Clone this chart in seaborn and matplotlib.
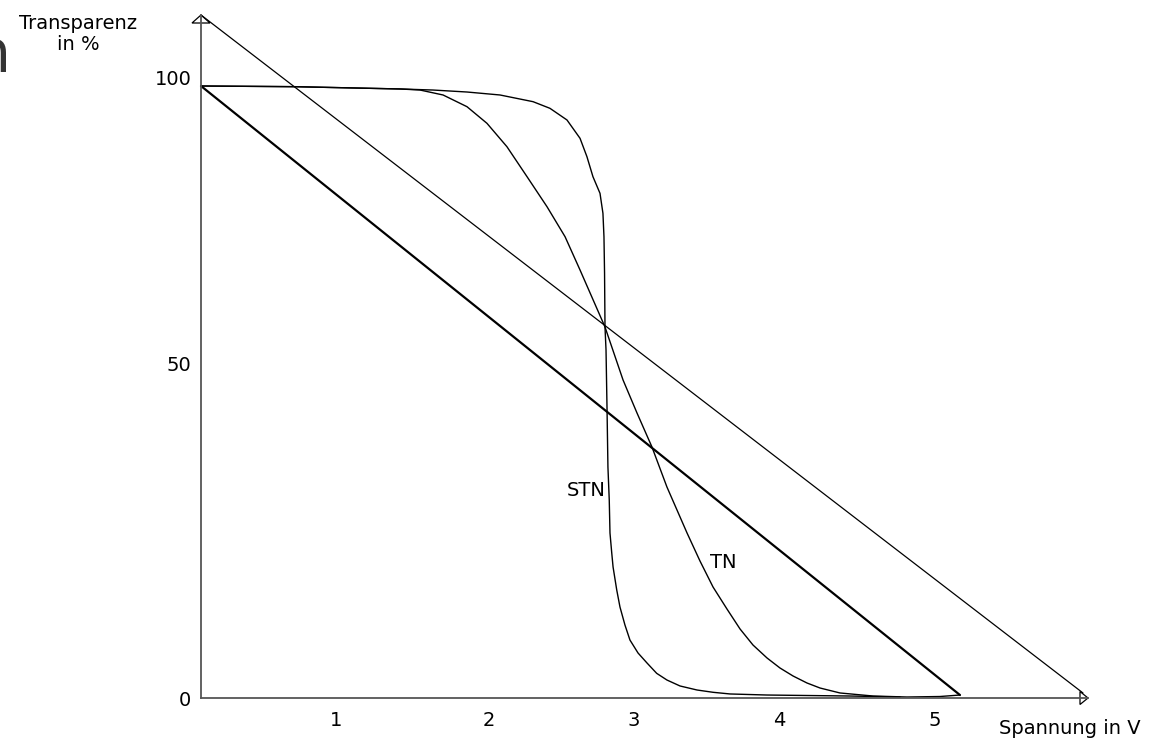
import matplotlib
matplotlib.use("Agg")
import matplotlib.pyplot as plt
import seaborn as sns
import pandas as pd
from matplotlib.patches import Polygon

# ---- data ----
stn_v = [0.0, 0.640, 1.356, 1.580, 1.812, 2.037, 2.262, 2.377, 2.493, 2.582, 2.629,
         2.670, 2.718, 2.738, 2.745, 2.749, 2.752, 2.759, 2.766, 2.772, 2.781, 2.786,
         2.798, 2.807, 2.832, 2.854, 2.888, 2.922, 2.977, 3.038, 3.104, 3.174, 3.263,
         3.379, 3.488, 3.604, 3.856, 4.421, 4.762]
stn_t = [98.71, 98.60, 98.23, 98.06, 97.74, 97.26, 96.18, 95.11, 93.23, 90.27, 87.31,
         84.08, 81.40, 78.18, 74.40, 68.55, 59.84, 56.13, 46.45, 37.26, 31.94, 26.61,
         23.39, 21.13, 17.42, 14.68, 11.77, 9.35, 7.26, 5.65, 3.98, 2.90, 1.94,
         1.29, 0.92, 0.65, 0.48, 0.32, 0.16]

tn_v = [0.0, 0.640, 1.356, 1.492, 1.649, 1.812, 1.948, 2.084, 2.221, 2.357, 2.480,
        2.582, 2.752, 2.875, 2.970, 3.072, 3.174, 3.311, 3.399, 3.488, 3.583, 3.672,
        3.760, 3.856, 3.944, 4.033, 4.128, 4.217, 4.353, 4.578, 4.809, 5.034, 5.170]
tn_t = [98.71, 98.60, 98.23, 98.06, 97.26, 95.37, 92.69, 88.92, 84.08, 79.24, 74.40,
        69.03, 59.84, 51.29, 45.97, 40.48, 34.03, 26.61, 22.10, 17.90, 14.35, 11.13,
        8.55, 6.45, 4.84, 3.55, 2.42, 1.61, 0.81, 0.32, 0.16, 0.24, 0.48]

thick_v = [0.0, 5.170]
thick_t = [98.71, 0.48]

thin_v = [0.0, 6.008]
thin_t = [110.16, 0.81]

xtick_pos = [0.92, 1.96, 2.95, 3.94, 5.0]
xtick_labels = ["1", "2", "3", "4", "5"]
ytick_pos = [0.0, 53.9, 100.0]
ytick_labels = ["0", "50", "100"]

x_label = "Spannung in V"
y_label = "Transparenz\nin %"
label_stn = "STN"
label_tn = "TN"

# ---- figure ----
sns.set_theme(style="white")
plt.rcParams["font.family"] = ["DejaVu Sans"]
plt.rcParams["text.color"] = "black"

W, H = 1159, 740
fig = plt.figure(figsize=(W / 100, H / 100), dpi=100)
left_px, right_px, top_px, bottom_px = 201, 1088, 15, 698
ax = fig.add_axes([left_px / W, (H - bottom_px) / H,
                   (right_px - left_px) / W, (bottom_px - top_px) / H])
px_per_v = 146.8
px_per_t = 6.2
xmax = (right_px - left_px) / px_per_v
ymax = (bottom_px - top_px) / px_per_t
ax.set_xlim(0, xmax)
ax.set_ylim(0, ymax)

def draw(v, t, lw):
    df = pd.DataFrame({"v": v, "t": t})
    sns.lineplot(data=df, x="v", y="t", ax=ax, sort=False, estimator=None,
                 color="black", linewidth=lw, clip_on=False)

draw(thin_v, thin_t, 0.9)
draw(thick_v, thick_t, 1.6)
draw(tn_v, tn_t, 1.0)
draw(stn_v, stn_t, 1.0)
for ln in ax.lines:
    ln.set_solid_joinstyle("round")

# spines / axes
for s in ["top", "right"]:
    ax.spines[s].set_visible(False)
for s in ["left", "bottom"]:
    ax.spines[s].set_color("#555555")
    ax.spines[s].set_linewidth(1.3)

ax.set_xticks(xtick_pos)
ax.set_xticklabels(xtick_labels)
ax.set_yticks(ytick_pos)
ax.set_yticklabels(ytick_labels)
ax.tick_params(axis="x", direction="inout", length=10, width=0.9, color="black",
               labelsize=14, pad=4, labelcolor="black")
ax.tick_params(axis="y", direction="inout", length=12, width=0.9, color="#555555",
               labelsize=14, pad=1, labelcolor="black")
ax.yaxis.get_major_ticks()[0].tick1line.set_visible(False)
ax.set_xlabel("")
ax.set_ylabel("")
ax.grid(False)

# arrow heads (open triangles)
dx = 1 / px_per_v
dy = 1 / px_per_t
ytri = Polygon([(0, ymax), (-9 * dx, ymax - 8 * dy), (9 * dx, ymax - 8 * dy)],
               closed=True, fill=False, edgecolor="black", linewidth=0.9, clip_on=False)
xtri = Polygon([(xmax, 0), (xmax - 8 * dx, 6.5 * dy), (xmax - 8 * dx, -6.5 * dy)],
               closed=True, fill=False, edgecolor="black", linewidth=0.9, clip_on=False)
ax.add_patch(ytri)
ax.add_patch(xtri)

# texts
fig.text(1070 / W, 1 - 728 / H, x_label, ha="center", va="center", fontsize=14,
         color="black")
fig.text(78 / W, 1 - 34 / H, y_label, ha="center", va="center", fontsize=14,
         linespacing=1.1, color="black")
fig.text(586 / W, 1 - 490 / H, label_stn, ha="center", va="center", fontsize=14,
         color="black")
fig.text(723 / W, 1 - 563 / H, label_tn, ha="center", va="center", fontsize=14,
         color="black")
fig.text(11 / W, 1 - 72 / H, "n", ha="right", va="baseline", fontsize=42,
         color="#333333")

fig.savefig("out.png", dpi=100, facecolor="white")
